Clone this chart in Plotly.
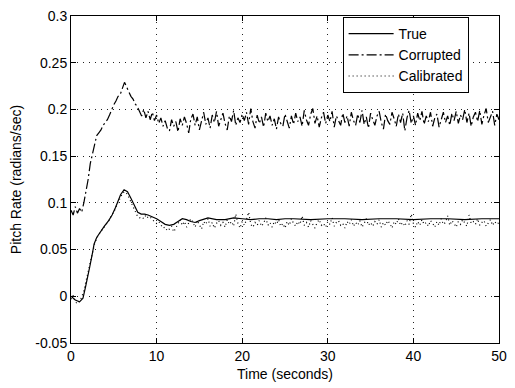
import numpy as np
import plotly.graph_objects as go

# True pitch rate (coarse, non-uniform sampling of a smooth response)
t_true = [0, 0.5, 1.0, 1.4, 1.7, 2.0, 2.2, 2.5, 2.7, 3.0, 3.4, 3.9, 4.4, 4.8, 5.2, 5.5,
          5.8, 6.2, 6.6, 7.0, 7.4, 7.8, 8.2, 8.6, 9.0, 9.5, 10.0, 10.5, 11.0, 11.5,
          12.0, 12.5, 13.0, 13.5, 14.0, 14.5, 15, 16, 17, 18, 19, 20, 21, 22, 23, 24,
          25, 26, 28, 30, 32, 34, 36, 38, 40, 42, 44, 46, 48, 50]
true_rate = [0.0, -0.004, -0.006, -0.002, 0.010, 0.022, 0.032, 0.046, 0.056, 0.063,
             0.069, 0.075, 0.081, 0.087, 0.095, 0.102, 0.109, 0.114, 0.112, 0.105,
             0.097, 0.090, 0.088, 0.088, 0.087, 0.085, 0.083, 0.080, 0.077, 0.076,
             0.077, 0.080, 0.083, 0.082, 0.080, 0.079, 0.081, 0.084, 0.082, 0.082,
             0.084, 0.083, 0.082, 0.083, 0.083, 0.082, 0.083, 0.083, 0.082, 0.083,
             0.083, 0.082, 0.083, 0.083, 0.082, 0.083, 0.083, 0.082, 0.083, 0.083]

# Corrupted gyro output, sampled every 0.25 s from 0 to 50 s
corrupted_rate = [
    0.092, 0.087, 0.096, 0.089, 0.094, 0.090, 0.100, 0.112, 0.125, 0.142, 0.152, 0.164,
    0.172, 0.175, 0.178, 0.183, 0.186, 0.189, 0.194, 0.200, 0.205, 0.209, 0.214, 0.216,
    0.222, 0.229, 0.224, 0.219, 0.214, 0.211, 0.206, 0.203, 0.198, 0.193, 0.200, 0.191,
    0.198, 0.189, 0.197, 0.188, 0.194, 0.185, 0.191, 0.182, 0.188, 0.180, 0.177, 0.189,
    0.182, 0.187, 0.176, 0.190, 0.183, 0.192, 0.185, 0.175, 0.190,
    0.195, 0.183, 0.192, 0.178, 0.189, 0.197, 0.184, 0.191, 0.180, 0.194, 0.186, 0.198,
    0.182, 0.190, 0.196, 0.185, 0.178, 0.193, 0.187, 0.199, 0.183, 0.191, 0.186, 0.195,
    0.188, 0.197, 0.184, 0.201, 0.187, 0.180, 0.194, 0.185, 0.192, 0.181, 0.196, 0.187,
    0.193, 0.183, 0.190, 0.179, 0.192, 0.185, 0.182, 0.195, 0.188, 0.180, 0.193, 0.184,
    0.196, 0.187, 0.192, 0.182, 0.199, 0.189, 0.183, 0.195, 0.201, 0.185, 0.193, 0.181,
    0.191, 0.197, 0.185, 0.194, 0.187, 0.198, 0.181, 0.193, 0.188, 0.183, 0.196, 0.186,
    0.193, 0.182, 0.197, 0.188, 0.183, 0.195, 0.186, 0.199, 0.184, 0.192, 0.180, 0.196,
    0.189, 0.183, 0.193, 0.198, 0.186, 0.179, 0.195, 0.188, 0.184, 0.197, 0.190, 0.182,
    0.195, 0.186, 0.196, 0.177, 0.191, 0.199, 0.185, 0.193, 0.183, 0.196, 0.188, 0.198,
    0.184, 0.193, 0.187, 0.197, 0.182, 0.191, 0.195, 0.181, 0.189, 0.197, 0.186, 0.193,
    0.183, 0.196, 0.188, 0.198, 0.185, 0.194, 0.189, 0.200, 0.186, 0.196, 0.182, 0.192,
    0.197, 0.187, 0.199, 0.184, 0.194, 0.201, 0.186, 0.192, 0.198, 0.183, 0.195, 0.189,
]

# Calibrated output, same 0.25 s sampling
calibrated_rate = [
    -0.003, 0.001, -0.006, -0.008, -0.005, -0.001, 0.006, 0.015, 0.026, 0.036,
    0.046, 0.056, 0.062, 0.066, 0.070, 0.072, 0.076, 0.079, 0.082, 0.087,
    0.090, 0.096, 0.101, 0.105, 0.110, 0.112, 0.110, 0.106, 0.101, 0.096,
    0.090, 0.086, 0.084, 0.085, 0.083, 0.087, 0.084, 0.085, 0.082, 0.080,
    0.078, 0.080, 0.076, 0.073, 0.074, 0.070, 0.072, 0.075, 0.069, 0.073,
    0.078, 0.082, 0.076, 0.080, 0.074, 0.078, 0.083,
    0.079, 0.074, 0.081, 0.076, 0.072, 0.080, 0.077, 0.083, 0.075, 0.079, 0.073, 0.078,
    0.081, 0.076, 0.079, 0.074, 0.082, 0.077, 0.080, 0.075, 0.088, 0.078, 0.073, 0.080,
    0.076, 0.082, 0.090, 0.077, 0.074, 0.079, 0.076, 0.081, 0.075, 0.078, 0.084, 0.076,
    0.079, 0.074, 0.080, 0.077, 0.082, 0.075, 0.078, 0.073, 0.080, 0.076, 0.083, 0.078,
    0.075, 0.080, 0.077, 0.086, 0.076, 0.079, 0.074, 0.081, 0.077, 0.073, 0.079, 0.082,
    0.076, 0.078, 0.074, 0.080, 0.077, 0.084, 0.075, 0.079, 0.081, 0.076, 0.078, 0.073,
    0.080, 0.077, 0.082, 0.075, 0.079, 0.076, 0.081, 0.074, 0.078, 0.083, 0.076, 0.079,
    0.075, 0.080, 0.077, 0.082, 0.074, 0.079, 0.076, 0.081, 0.078, 0.073, 0.080, 0.077,
    0.083, 0.076, 0.079, 0.075, 0.081, 0.077, 0.088, 0.078, 0.074, 0.080, 0.076, 0.082,
    0.077, 0.079, 0.075, 0.081, 0.078, 0.074, 0.080, 0.076, 0.083, 0.077, 0.079, 0.086,
    0.076, 0.081, 0.078, 0.074, 0.080, 0.077, 0.082, 0.079, 0.075, 0.087, 0.078, 0.080,
    0.077, 0.083, 0.076, 0.079, 0.081, 0.075, 0.078, 0.082, 0.076, 0.080, 0.077, 0.079,
]

t_corrupted = np.linspace(0, 50, len(corrupted_rate))
t_calibrated = np.linspace(0, 50, len(calibrated_rate))

x_ticks = [0, 10, 20, 30, 40, 50]
y_ticks = [-0.05, 0, 0.05, 0.1, 0.15, 0.2, 0.25, 0.3]
y_tick_text = ["-0.05", "0", "0.05", "0.1", "0.15", "0.2", "0.25", "0.3"]

FONT = "Liberation Sans, Arial, Helvetica, sans-serif"
FS = 14

fig = go.Figure()
fig.add_trace(go.Scatter(x=t_true, y=true_rate, mode="lines", name="True",
                         line=dict(color="black", width=1.2, dash="solid")))
fig.add_trace(go.Scatter(x=t_corrupted, y=corrupted_rate, mode="lines", name="Corrupted",
                         line=dict(color="black", width=1.2, dash="10px,3px,2px,3px")))
fig.add_trace(go.Scatter(x=t_calibrated, y=calibrated_rate, mode="lines", name="Calibrated",
                         line=dict(color="black", width=1.2, dash="1px,3px")))

axis_common = dict(
    showline=True, linecolor="black", linewidth=1, mirror="allticks",
    ticks="inside", ticklen=5, tickcolor="black",
    showgrid=True, gridcolor="#222222", gridwidth=1, griddash="1px,5px",
    zeroline=False, tickfont=dict(family=FONT, size=FS, color="black"),
)

fig.update_layout(
    width=515, height=388,
    margin=dict(l=71, r=8, t=10, b=45),
    paper_bgcolor="white", plot_bgcolor="white",
    font=dict(family=FONT, size=FS, color="black"),
    xaxis=dict(range=[0, 50], tickvals=x_ticks,
               title=dict(text="Time (seconds)", standoff=6,
                          font=dict(family=FONT, size=FS)),
               **axis_common),
    yaxis=dict(range=[-0.05, 0.3], tickvals=y_ticks, ticktext=y_tick_text,
               title=dict(text="Pitch Rate (radians/sec)", standoff=10,
                          font=dict(family=FONT, size=FS)),
               **axis_common),
    legend=dict(x=0.929, y=0.997, xanchor="right", yanchor="top",
                bgcolor="white", bordercolor="black", borderwidth=1,
                font=dict(family=FONT, size=FS), tracegroupgap=0, itemwidth=45),
    showlegend=True,
)

fig.write_html("out.html")
